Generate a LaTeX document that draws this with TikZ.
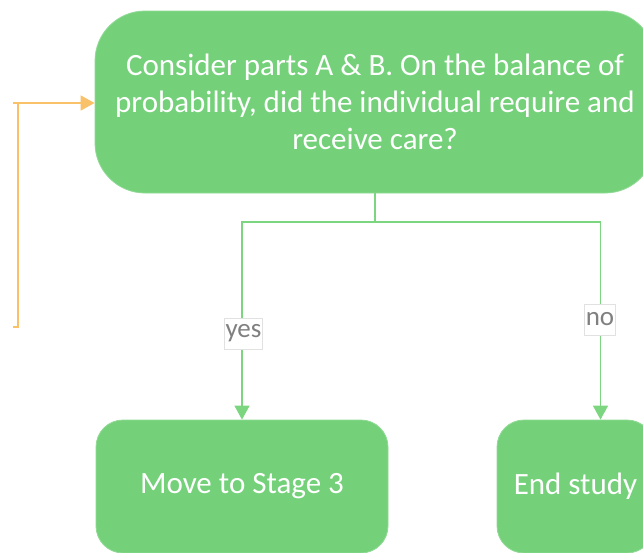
\documentclass[tikz,border=0pt]{standalone}
\usepackage{fontspec}
\setmainfont{Carlito}
\usetikzlibrary{arrows.meta}
\definecolor{boxgreen}{RGB}{116,209,122}
\definecolor{linegreen}{RGB}{124,214,128}
\definecolor{loopline}{RGB}{249,194,104}
\definecolor{labelgray}{RGB}{128,128,128}
\definecolor{labelframe}{RGB}{225,225,225}
\begin{document}
\begin{tikzpicture}[x=1pt,y=-1pt,
  box/.style={fill=boxgreen, draw=boxgreen!80!white, line width=0.8pt,
    text=white, align=center, inner sep=0pt},
  outcome/.style={box, rounded corners=27pt, minimum height=133pt,
    font=\fontsize{31}{36}\selectfont},
  flow/.style={draw=linegreen, line width=1.5pt,
    -{Triangle[length=14pt,width=15pt]}},
  branch/.style={draw=linegreen, line width=1.5pt},
  back/.style={draw=loopline, line width=1.5pt,
    -{Triangle[length=14pt,width=15pt]}},
  answer/.style={fill=white, draw=labelframe, line width=0.6pt, text=labelgray,
    font=\fontsize{27}{31}\selectfont, inner xsep=1pt, inner ysep=0pt,
    minimum height=31pt}]
  \useasboundingbox (0,0) rectangle (643,552);
  \clip (0,0) rectangle (643,552);

  % decision box
  \node[box, rounded corners=50pt, minimum width=560pt, minimum height=182pt,
    font=\fontsize{31}{37}\selectfont] (ask) at (375,102)
    {Consider parts A \& B. On the balance of\\
     probability, did the individual require and\\
     receive care?};

  % outcome boxes
  \node[outcome, minimum width=292pt] (stage) at (242,486.5) {Move to Stage 3};
  \node[outcome, minimum width=157pt] (end) at (575.5,486.5) {End study};

  % branching connectors
  \coordinate (split) at (375,222);
  \coordinate (yesturn) at (242,222);
  \coordinate (noturn) at (600.5,222);
  \draw[branch] (ask.south) -- (split);
  \draw[flow] (split) -- (yesturn) -- (yesturn |- stage.north);
  \draw[flow] (split) -- (noturn) -- (noturn |- end.north);
  \node[answer] (yes) at (243.5,333.5) {yes};
  \node[answer] (no) at (600,319.5) {no};

  % loop-back connector
  \coordinate (l0) at (13,327);
  \coordinate (l1) at (18,327);
  \coordinate (l2) at (18,103);
  \coordinate (l3) at (13,103);
  \draw[back] (l0) -- (l1) -- (l2) (l3) -- (l3 -| ask.west);
\end{tikzpicture}
\end{document}
